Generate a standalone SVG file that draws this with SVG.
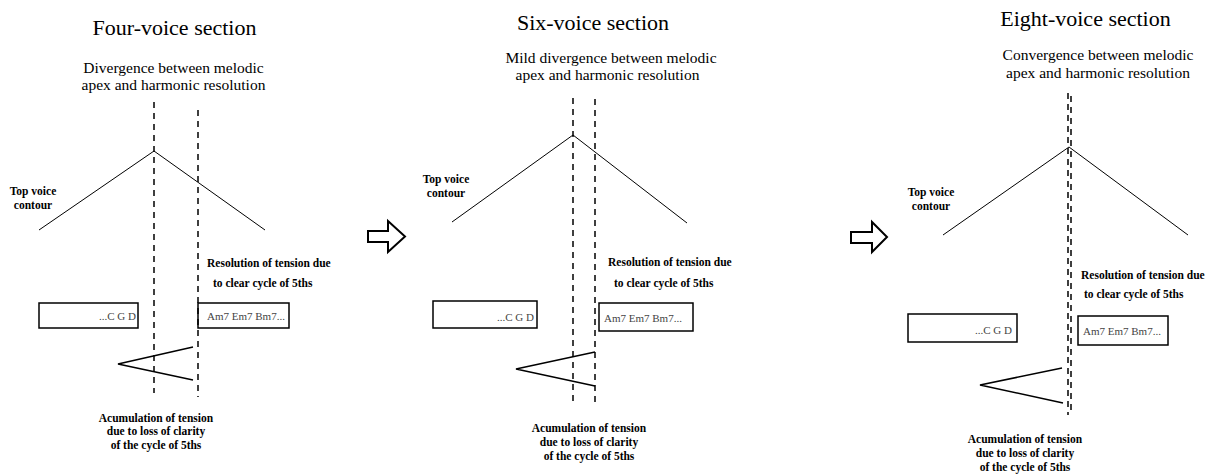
<svg xmlns="http://www.w3.org/2000/svg" width="1215" height="476" viewBox="0 0 1215 476">
  <style>
    .title { font-family: "Liberation Serif", "Times New Roman", serif; font-size: 22px; fill: #000; text-anchor: middle; }
    .sub { font-family: "Liberation Serif", "Times New Roman", serif; font-size: 15.5px; fill: #000; text-anchor: middle; }
    .note { font-family: "Liberation Serif", "Times New Roman", serif; font-size: 11.5px; font-weight: bold; fill: #000; }
    .mid { text-anchor: middle; }
    .chord { font-family: "Liberation Serif", "Times New Roman", serif; font-size: 11px; fill: #444; }
    .box { fill: #fff; stroke: #000; stroke-width: 1.5; }
    .dash { stroke: #000; stroke-width: 1.5; stroke-dasharray: 6 5; fill: none; }
    .contour { stroke: #000; stroke-width: 1; fill: none; }
    .wedge { stroke: #000; stroke-width: 1.5; fill: none; }
    .step { fill: #fff; stroke: #000; stroke-width: 2; stroke-linejoin: miter; }
  </style>

  <rect x="0" y="0" width="1215" height="476" fill="#fff"/>

  <!-- Four-voice panel -->
  <g id="four-voice">
    <text class="title" x="174.5" y="35">Four-voice section</text>
    <text class="sub" x="173.5" y="73">Divergence between melodic</text>
    <text class="sub" x="173.5" y="90">apex and harmonic resolution</text>
    <text class="note mid" x="33" y="195">Top voice</text>
    <text class="note mid" x="33" y="209">contour</text>
    <text class="note" x="207" y="267">Resolution of tension due</text>
    <text class="note" x="213" y="287">to clear cycle of 5ths</text>
    <rect class="box" x="39" y="303" width="99" height="25"/>
    <text class="chord" x="136" y="320" text-anchor="end">...C G D</text>
    <rect class="box" x="198" y="303" width="91" height="25"/>
    <text class="chord" x="207" y="320">Am7 Em7 Bm7...</text>
    <text class="note mid" x="156" y="422">Acumulation of tension</text>
    <text class="note mid" x="156" y="435">due to loss of clarity</text>
    <text class="note mid" x="156" y="449">of the cycle of 5ths</text>
  </g>

  <!-- Six-voice panel -->
  <g id="six-voice">
    <text class="title" x="593" y="30">Six-voice section</text>
    <text class="sub" x="611" y="63">Mild divergence between melodic</text>
    <text class="sub" x="607.5" y="80">apex and harmonic resolution</text>
    <text class="note mid" x="446" y="183">Top voice</text>
    <text class="note mid" x="446" y="197">contour</text>
    <text class="note" x="608" y="266">Resolution of tension due</text>
    <text class="note" x="614" y="287">to clear cycle of 5ths</text>
    <rect class="box" x="433" y="301" width="104" height="27"/>
    <text class="chord" x="534" y="321" text-anchor="end">...C G D</text>
    <rect class="box" x="599" y="303" width="94" height="28"/>
    <text class="chord" x="604" y="322">Am7 Em7 Bm7...</text>
    <text class="note mid" x="589" y="432">Acumulation of tension</text>
    <text class="note mid" x="589" y="446">due to loss of clarity</text>
    <text class="note mid" x="589" y="460">of the cycle of 5ths</text>
  </g>

  <!-- Eight-voice panel -->
  <g id="eight-voice">
    <text class="title" x="1085.5" y="26">Eight-voice section</text>
    <text class="sub" x="1098" y="60">Convergence between melodic</text>
    <text class="sub" x="1098" y="78">apex and harmonic resolution</text>
    <text class="note mid" x="931" y="196">Top voice</text>
    <text class="note mid" x="931" y="210">contour</text>
    <text class="note" x="1081" y="279">Resolution of tension due</text>
    <text class="note" x="1084" y="298">to clear cycle of 5ths</text>
    <rect class="box" x="908" y="314" width="109" height="28"/>
    <text class="chord" x="1012" y="334" text-anchor="end">...C G D</text>
    <rect class="box" x="1078" y="316" width="90" height="29"/>
    <text class="chord" x="1083" y="335">Am7 Em7 Bm7...</text>
    <text class="note mid" x="1025" y="443">Acumulation of tension</text>
    <text class="note mid" x="1025" y="457">due to loss of clarity</text>
    <text class="note mid" x="1025" y="471">of the cycle of 5ths</text>
  </g>

  <!-- Block arrows between panels -->
  <g id="step-1">
    <polygon class="step" points="368,231 388,231 388,221 405,236.5 388,252 388,242 368,242"/>
  </g>
  <g id="step-2">
    <polygon class="step" points="851,232 872,232 872,222 887,237 872,252 872,243 851,243"/>
  </g>

  <!-- Contours, apex/resolution markers and tension wedges -->
  <g id="connectors">
    <polyline class="contour" points="39,230 154,151 265,230"/>
    <line class="dash" x1="154" y1="102" x2="154" y2="393"/>
    <line class="dash" x1="198" y1="110" x2="198" y2="397"/>
    <polyline class="wedge" points="193,347 118,364 193,380"/>

    <polyline class="contour" points="452,222 573,135 687,223"/>
    <line class="dash" x1="573" y1="98" x2="573" y2="402"/>
    <line class="dash" x1="595" y1="99" x2="595" y2="402"/>
    <polyline class="wedge" points="595,352 516,369 595,386"/>

    <polyline class="contour" points="943,235 1069,147 1188,235"/>
    <line class="dash" x1="1068" y1="93" x2="1068" y2="415"/>
    <line class="dash" x1="1071" y1="96" x2="1071" y2="415"/>
    <polyline class="wedge" points="1062,368 980,385 1063,403"/>
  </g>
</svg>
